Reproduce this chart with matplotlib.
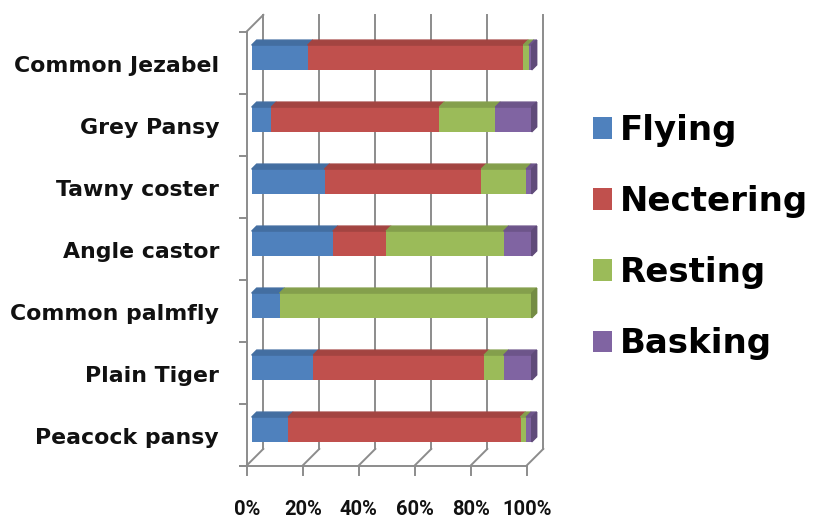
import numpy as np
import matplotlib.pyplot as plt
from matplotlib.patches import Polygon
from matplotlib.transforms import ScaledTranslation
from matplotlib.colors import to_rgb

# data (bottom row first)
species = ['Peacock pansy', 'Plain Tiger', 'Common palmfly', 'Angle castor',
           'Tawny coster', 'Grey Pansy', 'Common Jezabel']
behaviours = ['Flying', 'Nectering', 'Resting', 'Basking']
flying    = [13, 22, 10, 29, 26,  7, 20]
nectering = [83, 61,  0, 19, 56, 60, 77]
resting   = [ 2,  7, 90, 42, 16, 20,  2]
basking   = [ 2, 10,  0, 10,  2, 13,  1]
pct_ticks  = [0, 20, 40, 60, 80, 100]
pct_labels = ['0%', '20%', '40%', '60%', '80%', '100%']

colors = ['#4F81BD', '#C0504D', '#9BBB59', '#8064A2']
grid_col = '#8C8C8C'

def shade(c, f):
    r, g, b = to_rgb(c)
    return (r * f, g * f, b * f)

W, H = 817, 519
fig = plt.figure(figsize=(W / 100, H / 100), dpi=100)
ax = fig.add_axes([251.7 / W, 58.5 / H, 280 / W, 434 / H])
ax.set_xlim(0, 100)
ax.set_ylim(-0.5, 6.5)
ax.axis('off')

# pixel -> data unit factors
sx = 100 / 280
sy = 1 / 62
bx, by = 11.6 * sx, 11.6 * sy     # back wall offset
fx, fy = -5 * sx, -5 * sy         # front edge offset
dx, dy = 5 * sx, 5 * sy           # bar depth

lw = 1.4
line_kw = dict(color=grid_col, lw=lw, clip_on=False, zorder=1)
# back wall gridlines + floor diagonals + ticks
for t in pct_ticks:
    ax.plot([t + bx, t + bx], [-0.5 + by, 6.5 + by], **line_kw)
    ax.plot([t + fx, t + bx], [-0.5 + fy, -0.5 + by], **line_kw)
    ax.plot([t + fx, t + fx], [-0.5 + fy, -0.5 + fy - 9 * sy], **line_kw)

# left wall
ax.plot([fx, bx], [6.5 + fy, 6.5 + by], **line_kw)
ax.plot([fx, fx], [-0.5 + fy, 6.5 + fy], **line_kw)
for b in np.arange(-0.5, 7, 1.0):
    ax.plot([fx - 7 * sx, fx], [b + fy, b + fy], **line_kw)
# floor front edge
ax.plot([fx - 7 * sx, 100 + fx], [-0.5 + fy, -0.5 + fy], **line_kw)

# stacked bars with a bit of depth
ypos = np.arange(len(species))
h = 0.4
left = np.zeros(len(species))
series = [flying, nectering, resting, basking]
last_col = [None] * len(species)
for vals, c, name in zip(series, colors, behaviours):
    vals = np.array(vals, dtype=float)
    ax.barh(ypos, vals, left=left, height=h, color=c, label=name, zorder=3)
    for i in range(len(species)):
        if vals[i] > 0:
            l, r = left[i], left[i] + vals[i]
            top = i + h / 2
            ax.add_patch(Polygon([(l, top), (r, top), (r + dx, top + dy), (l + dx, top + dy)],
                                 closed=True, color=shade(c, 0.85), zorder=3, clip_on=False))
            last_col[i] = c
    left += vals

for i in range(len(species)):
    r = left[i]
    ax.add_patch(Polygon([(r, i - h / 2), (r + dx, i - h / 2 + dy),
                          (r + dx, i + h / 2 + dy), (r, i + h / 2)],
                         closed=True, color=shade(last_col[i], 0.75), zorder=3, clip_on=False))

# category labels
lab_tr = ax.transData + ScaledTranslation(-(251.7 - 219) / 100, -8 / 100, fig.dpi_scale_trans)
for i, name in enumerate(species):
    ax.text(0, i, name, transform=lab_tr, ha='right', va='center',
            fontsize=15.8, fontweight='bold', color='#111111')

# percent labels
for t, s in zip(pct_ticks, pct_labels):
    ax.text(t + fx, -0.5 + fy - 44 * sy, s, ha='center', va='center',
            fontsize=14.5, fontweight='bold', family='Roboto', color='#111111',
            clip_on=False)

ax.legend(loc='upper left', bbox_to_anchor=(593 / W, 1 - 114 / H),
          bbox_transform=fig.transFigure, frameon=False,
          prop={'weight': 'bold', 'size': 24.5},
          handlelength=0.55, handleheight=0.6, handletextpad=0.25,
          labelspacing=1.12, borderaxespad=0, borderpad=0)

fig.savefig('out.png', dpi=100)
